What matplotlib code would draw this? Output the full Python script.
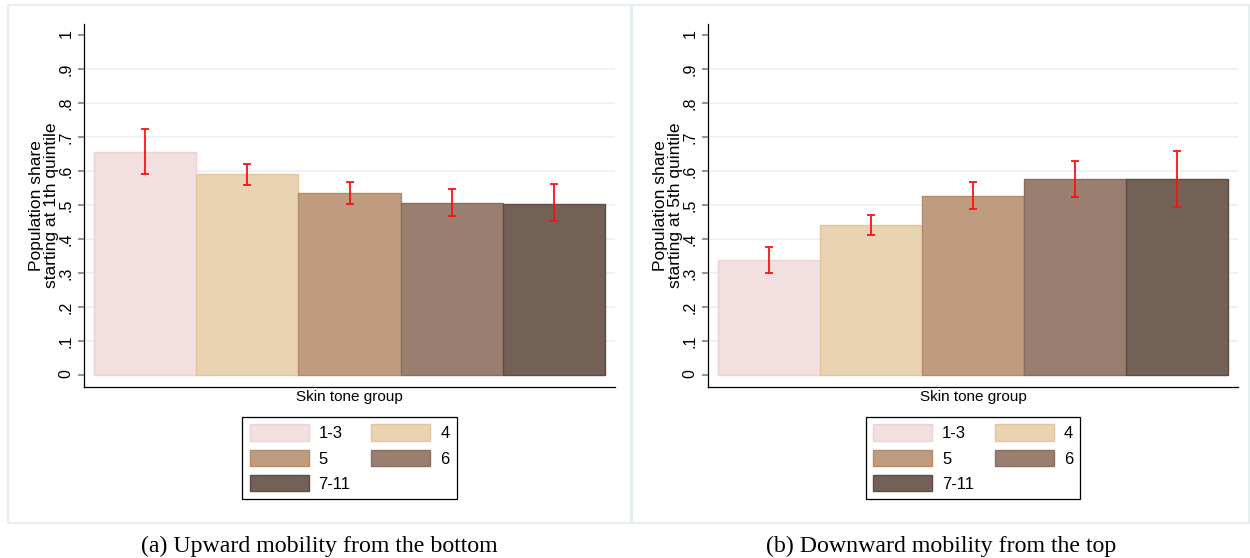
import matplotlib
matplotlib.use("Agg")
import matplotlib.pyplot as plt
from matplotlib.patches import Rectangle
import numpy as np

plt.rcParams['font.family'] = ['Liberation Sans', 'DejaVu Sans']

groups = ['1-3', '4', '5', '6', '7-11']
fill_colors = ['#f2dfdf', '#ead3b2', '#bf9c7f', '#9a7f70', '#736156']
edge_colors = ['#efd3d3', '#e2c6a0', '#b08b6e', '#8a6f61', '#5e4c42']

# share starting at the 1st quintile, with 95% CI
up_share = [0.656, 0.590, 0.534, 0.505, 0.503]
up_lo = [0.592, 0.559, 0.502, 0.466, 0.452]
up_hi = [0.722, 0.621, 0.567, 0.547, 0.560]

# share starting at the 5th quintile, with 95% CI
down_share = [0.337, 0.441, 0.526, 0.576, 0.575]
down_lo = [0.299, 0.411, 0.488, 0.524, 0.494]
down_hi = [0.375, 0.471, 0.566, 0.630, 0.659]

yticks = [0, 0.1, 0.2, 0.3, 0.4, 0.5, 0.6, 0.7, 0.8, 0.9, 1.0]
ytick_labels = ['0', '.1', '.2', '.3', '.4', '.5', '.6', '.7', '.8', '.9', '1']

# legend fills column by column, so reorder to read row by row
legend_order = [0, 2, 4, 1, 3]

fig = plt.figure(figsize=(12.5, 5.58), dpi=100)

# light frames round each panel
for x0, w in [(0.0064, 0.4984), (0.5056, 0.4936)]:
    fig.patches.append(Rectangle((x0, 0.0627), w, 0.9283, transform=fig.transFigure,
                                 fill=False, edgecolor='#e6eff0', linewidth=1.5))


def draw_panel(ax, share, lo, hi, ylabel):
    x = np.arange(len(groups))
    bars = ax.bar(x, share, width=1.0, color=fill_colors, edgecolor=edge_colors,
                  linewidth=1.0, zorder=2)
    share = np.array(share)
    yerr = [share - np.array(lo), np.array(hi) - share]
    ax.errorbar(x, share, yerr=yerr, fmt='none', ecolor='#ff1010', elinewidth=1.3,
                capsize=3, capthick=1.3, zorder=3)

    ax.set_xlim(-0.6, 4.6)
    ax.set_ylim(-0.0353, 1.0314)
    ax.set_yticks(yticks)
    ax.set_yticklabels(ytick_labels)
    ax.set_xticks([])
    ax.tick_params(axis='y', labelrotation=90, length=4.3, width=1.1, color='#777777',
                   pad=3.0, labelsize=11.5)

    ax.grid(axis='y', color='#eaf2f3', linewidth=1.3)
    gl = ax.get_ygridlines()
    gl[0].set_visible(False)
    gl[-1].set_visible(False)
    ax.set_axisbelow(True)

    for s in ['top', 'right']:
        ax.spines[s].set_visible(False)
    for s in ['left', 'bottom']:
        ax.spines[s].set_linewidth(0.9)
        ax.spines[s].set_color('black')

    ax.set_ylabel(ylabel, fontsize=12.5, linespacing=1.0)
    ax.yaxis.set_label_coords(-0.047, 0.5)
    ax.set_xlabel('Skin tone group', fontsize=11, labelpad=2)

    handles = [bars.patches[i] for i in legend_order]
    labels = [groups[i] for i in legend_order]
    leg = ax.legend(handles, labels, loc='upper center', bbox_to_anchor=(0.5, -0.0826),
                    ncol=2, fontsize=12, frameon=True, fancybox=False, framealpha=1,
                    edgecolor='black', borderaxespad=0, borderpad=0.45,
                    handlelength=3.54, handleheight=1.15, handletextpad=0.6,
                    columnspacing=1.24, labelspacing=0.5)
    leg.get_frame().set_linewidth(0.9)


ax1 = fig.add_axes([0.0672, 0.3065, 0.4248, 0.6505])
draw_panel(ax1, up_share, up_lo, up_hi, 'Population share\nstarting at 1th quintile')

ax2 = fig.add_axes([0.5664, 0.3065, 0.4240, 0.6505])
draw_panel(ax2, down_share, down_lo, down_hi, 'Population share\nstarting at 5th quintile')

fig.text(0.2556, 0.0108, '(a) Upward mobility from the bottom', ha='center', va='baseline',
         fontsize=17.2, family=['Liberation Serif', 'DejaVu Serif'])
fig.text(0.7528, 0.0108, '(b) Downward mobility from the top', ha='center', va='baseline',
         fontsize=17.2, family=['Liberation Serif', 'DejaVu Serif'])

fig.savefig('out.png', dpi=100)
